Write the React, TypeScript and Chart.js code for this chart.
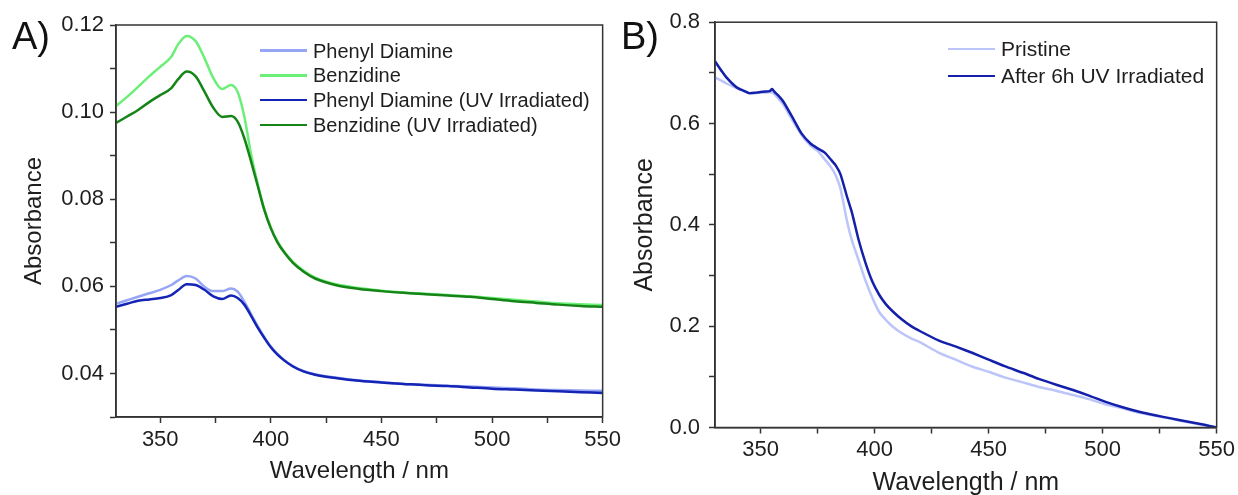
import React, { useEffect, useRef } from 'react';
import { Chart, registerables } from 'chart.js';

Chart.register(...registerables);

const FONT = "'Liberation Sans', Arial, Helvetica, sans-serif";
const AXIS = '#333333';
const TEXT = '#1e1e1e';

// ---------- Panel A data ----------
const wavelengthsA = [330, 335, 340, 345, 350, 355, 358, 362, 366, 370, 374, 378, 382, 385, 388, 391, 394, 397, 400, 403, 406, 410, 415, 420, 430, 440, 450, 460, 470, 480, 490, 500, 510, 520, 530, 540, 550];
const phenylDiamine = [0.0560, 0.0568, 0.0576, 0.0584, 0.0592, 0.0603, 0.0613, 0.0624, 0.0618, 0.0599, 0.0589, 0.0589, 0.0595, 0.0588, 0.0565, 0.0537, 0.0509, 0.0484, 0.0462, 0.0445, 0.0431, 0.0417, 0.0405, 0.0398, 0.0390, 0.0384, 0.0380, 0.0376, 0.0374, 0.0372, 0.0370, 0.0368, 0.0366, 0.0363, 0.0362, 0.0361, 0.0360];
const benzidine = [0.1014, 0.1035, 0.1058, 0.1082, 0.1104, 0.1127, 0.1155, 0.1175, 0.1163, 0.1124, 0.1078, 0.1053, 0.1062, 0.1046, 0.0990, 0.0905, 0.0836, 0.0778, 0.0735, 0.0703, 0.0680, 0.0656, 0.0635, 0.0620, 0.0604, 0.0596, 0.0590, 0.0586, 0.0583, 0.0580, 0.0577, 0.0573, 0.0569, 0.0565, 0.0561, 0.0559, 0.0557];
const phenylDiamineUV = [0.0553, 0.0560, 0.0567, 0.0570, 0.0573, 0.0580, 0.0591, 0.0605, 0.0603, 0.0592, 0.0577, 0.0571, 0.0579, 0.0573, 0.0558, 0.0533, 0.0506, 0.0482, 0.0460, 0.0443, 0.0430, 0.0416, 0.0404, 0.0397, 0.0389, 0.0383, 0.0379, 0.0376, 0.0373, 0.0371, 0.0368, 0.0365, 0.0363, 0.0361, 0.0359, 0.0357, 0.0355];
const benzidineUV = [0.0975, 0.0990, 0.1005, 0.1023, 0.1039, 0.1055, 0.1075, 0.1093, 0.1082, 0.1047, 0.1010, 0.0989, 0.0991, 0.0978, 0.0940, 0.0888, 0.0832, 0.0776, 0.0733, 0.0701, 0.0678, 0.0654, 0.0633, 0.0618, 0.0602, 0.0594, 0.0589, 0.0585, 0.0582, 0.0579, 0.0576, 0.0571, 0.0566, 0.0562, 0.0558, 0.0555, 0.0553];

// ---------- Panel B data ----------
const wavelengthsB = [330, 333, 335, 338, 340, 343, 345, 348, 350, 352, 354, 355, 356, 358, 360, 364, 368, 372, 375, 378, 381, 383, 385, 388, 390, 393, 396, 399, 402, 405, 408, 412, 416, 420, 428, 436, 443, 450, 457, 465, 472, 480, 487, 494, 501, 508, 516, 523, 530, 537, 544, 550];
const pristine = [0.691, 0.684, 0.679, 0.673, 0.669, 0.663, 0.660, 0.660, 0.661, 0.661, 0.662, 0.661, 0.658, 0.648, 0.637, 0.606, 0.577, 0.556, 0.546, 0.530, 0.513, 0.497, 0.472, 0.405, 0.370, 0.330, 0.290, 0.256, 0.228, 0.212, 0.199, 0.186, 0.176, 0.168, 0.148, 0.133, 0.120, 0.110, 0.099, 0.089, 0.080, 0.072, 0.064, 0.056, 0.046, 0.039, 0.029, 0.023, 0.017, 0.011, 0.005, 0.000];
const afterUV = [0.723, 0.703, 0.691, 0.677, 0.670, 0.664, 0.660, 0.661, 0.662, 0.663, 0.664, 0.668, 0.663, 0.654, 0.643, 0.612, 0.580, 0.560, 0.551, 0.543, 0.528, 0.517, 0.500, 0.454, 0.425, 0.370, 0.325, 0.288, 0.262, 0.243, 0.229, 0.213, 0.200, 0.190, 0.172, 0.159, 0.147, 0.134, 0.121, 0.108, 0.096, 0.084, 0.074, 0.063, 0.051, 0.041, 0.031, 0.024, 0.018, 0.012, 0.006, 0.000];

// ---------- ticks ----------
const xTicks = [350, 375, 400, 425, 450, 475, 500, 525, 550];
const yTicksA = [0.03, 0.04, 0.05, 0.06, 0.07, 0.08, 0.09, 0.10, 0.11, 0.12];
const yTicksB = [0.0, 0.1, 0.2, 0.3, 0.4, 0.5, 0.6, 0.7, 0.8];

const legendA = [
  { label: 'Phenyl Diamine', color: '#97a6f4' },
  { label: 'Benzidine', color: '#6cef78' },
  { label: 'Phenyl Diamine (UV Irradiated)', color: '#1424b4' },
  { label: 'Benzidine (UV Irradiated)', color: '#168416' },
];
const legendB = [
  { label: 'Pristine', color: '#bcc5fa' },
  { label: 'After 6h UV Irradiated', color: '#1420aa' },
];

const toPoints = (xs: number[], ys: number[]) => xs.map((x, i) => ({ x, y: ys[i] }));

const framePlugin = {
  id: 'frame',
  afterDraw(chart: any) {
    const { ctx, chartArea } = chart;
    const { left, top, right, bottom } = chartArea;
    ctx.save();
    ctx.strokeStyle = AXIS;
    ctx.lineWidth = 1.5;
    ctx.strokeRect(left, top, right - left, bottom - top);
    ctx.restore();
  },
};

function line(label: string, xs: number[], ys: number[], color: string, order: number, tension: number) {
  return {
    label,
    data: toPoints(xs, ys),
    borderColor: color,
    backgroundColor: color,
    borderWidth: 2.5,
    pointRadius: 0,
    tension,
    cubicInterpolationMode: tension > 0.3 ? 'monotone' : 'default',
    fill: false,
    order,
  };
}

function makeOptions(p: {
  yMin: number; yMax: number; yTicks: number[]; yMajor: (v: number) => boolean; yFmt: (v: number) => string;
  yWidth: number; xHeight: number; pad: any; tickSize: number; titleSize: number;
  yTitlePad: number; xTitlePad: number; yTickPad: number; xTickPad: number;
}) {
  const tickFont = { size: p.tickSize, family: FONT };
  const titleFont = { size: p.titleSize, family: FONT };
  return {
    responsive: false,
    animation: false,
    layout: { padding: p.pad },
    plugins: { legend: { display: false }, tooltip: { enabled: false } },
    scales: {
      x: {
        type: 'linear',
        min: 330,
        max: 550,
        afterBuildTicks: (s: any) => { s.ticks = xTicks.map((v) => ({ value: v })); },
        afterFit: (s: any) => { s.height = p.xHeight; },
        grid: { display: true, drawOnChartArea: false, drawTicks: true, tickLength: 6, tickColor: AXIS, tickWidth: 1.5 },
        border: { display: true, color: AXIS, width: 1.5 },
        ticks: {
          autoSkip: false, maxRotation: 0, padding: p.xTickPad, color: TEXT, font: tickFont,
          callback: (v: number) => (v % 50 === 0 ? String(v) : ''),
        },
        title: { display: true, text: 'Wavelength / nm', color: TEXT, font: titleFont, padding: { top: 0, bottom: p.xTitlePad } },
      },
      y: {
        type: 'linear',
        min: p.yMin,
        max: p.yMax,
        afterBuildTicks: (s: any) => { s.ticks = p.yTicks.map((v) => ({ value: v })); },
        afterFit: (s: any) => { s.width = p.yWidth; },
        grid: { display: true, drawOnChartArea: false, drawTicks: true, tickLength: 6, tickColor: AXIS, tickWidth: 1.5 },
        border: { display: true, color: AXIS, width: 1.5 },
        ticks: {
          autoSkip: false, padding: p.yTickPad, color: TEXT, font: tickFont,
          callback: (v: number) => (p.yMajor(v) ? p.yFmt(v) : ''),
        },
        title: { display: true, text: 'Absorbance', color: TEXT, font: titleFont, padding: { top: p.yTitlePad, bottom: 0 } },
      },
    },
  };
}

function ChartBox({ config, left, width }: { config: any; left: number; width: number }) {
  const ref = useRef<HTMLCanvasElement | null>(null);
  useEffect(() => {
    const chart = new Chart(ref.current as HTMLCanvasElement, { ...config, plugins: [framePlugin] });
    return () => chart.destroy();
  }, []);
  return (
    <canvas ref={ref} width={width} height={495}
      style={{ position: 'absolute', left, top: 0, width, height: 495 }} />
  );
}

function Legend({ items, left, top, gap, size, swatch }: { items: { label: string; color: string }[]; left: number; top: number; gap: number; size: number; swatch: number }) {
  return (
    <>
      {items.map((it, i) => (
        <div key={it.label} style={{
          position: 'absolute', left, top: top + i * gap - 12, height: 24,
          display: 'flex', alignItems: 'center', whiteSpace: 'nowrap',
          fontFamily: FONT, fontSize: size, color: TEXT,
        }}>
          <div style={{ width: swatch, height: 2.5, background: it.color, marginRight: 6 }} />
          <span style={{ lineHeight: '24px' }}>{it.label}</span>
        </div>
      ))}
    </>
  );
}

export default function App() {
  const configA = {
    type: 'line',
    data: {
      datasets: [
        line('Phenyl Diamine', wavelengthsA, phenylDiamine, legendA[0].color, 2, 0.4),
        line('Benzidine', wavelengthsA, benzidine, legendA[1].color, 2, 0.4),
        line('Phenyl Diamine (UV Irradiated)', wavelengthsA, phenylDiamineUV, legendA[2].color, 1, 0.4),
        line('Benzidine (UV Irradiated)', wavelengthsA, benzidineUV, legendA[3].color, 1, 0.4),
      ],
    },
    options: makeOptions({
      yMin: 0.03, yMax: 0.12, yTicks: yTicksA,
      yMajor: (v) => Math.round(v * 100) % 2 === 0 && Math.round(v * 100) !== 3,
      yFmt: (v) => v.toFixed(2),
      yWidth: 116, xHeight: 78, pad: { top: 25, right: 22, left: 0, bottom: 0 },
      tickSize: 22, titleSize: 24, yTitlePad: 20, xTitlePad: 9, yTickPad: 6, xTickPad: 4,
    }),
  };
  const configB = {
    type: 'line',
    data: {
      datasets: [
        line('Pristine', wavelengthsB, pristine, legendB[0].color, 2, 0.2),
        line('After 6h UV Irradiated', wavelengthsB, afterUV, legendB[1].color, 1, 0.2),
      ],
    },
    options: makeOptions({
      yMin: 0, yMax: 0.8, yTicks: yTicksB,
      yMajor: (v) => Math.round(v * 10) % 2 === 0,
      yFmt: (v) => v.toFixed(1),
      yWidth: 95, xHeight: 67.5, pad: { top: 21.5, right: 20, left: 0, bottom: 0 },
      tickSize: 22, titleSize: 25, yTitlePad: 10, xTitlePad: -3, yTickPad: 9, xTickPad: 3,
    }),
  };

  const panelLabel = (text: string, left: number) => (
    <div style={{ position: 'absolute', left, top: 17, fontFamily: FONT, fontSize: 38, lineHeight: '38px', color: '#111' }}>{text}</div>
  );

  return (
    <div style={{ position: 'fixed', left: 0, top: 0, width: 1238, height: 495, background: '#fff', overflow: 'hidden' }}>
      <ChartBox config={configA} left={0} width={625} />
      <ChartBox config={configB} left={620} width={618} />
      {panelLabel('A)', 12)}
      {panelLabel('B)', 621)}
      <Legend items={legendA} left={260} top={50.5} gap={24.8} size={20} swatch={47} />
      <Legend items={legendB} left={948} top={49} gap={27} size={21} swatch={47} />
    </div>
  );
}
